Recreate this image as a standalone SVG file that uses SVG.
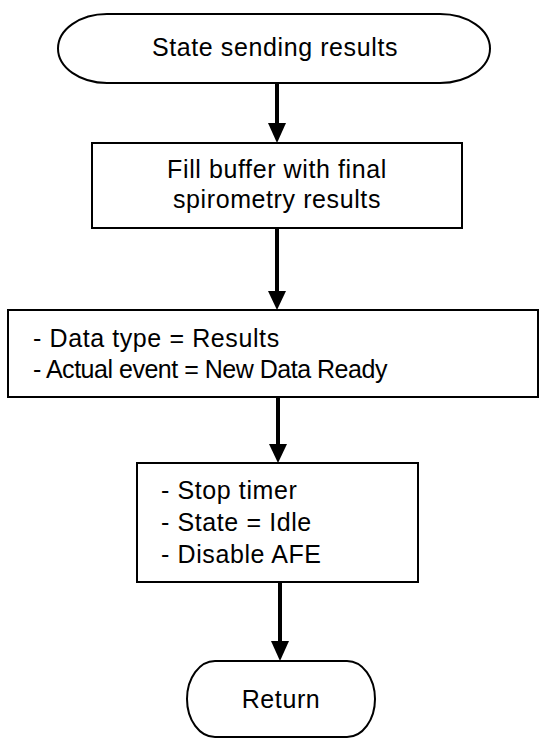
<svg xmlns="http://www.w3.org/2000/svg" width="541" height="739" viewBox="0 0 541 739">
<style>
.shape{fill:#fff;stroke:#000;stroke-width:2}
.t{font-family:"Liberation Sans",Arial,sans-serif;font-size:25px;letter-spacing:0.6px;fill:#000}
.c{text-anchor:middle}
.conn{stroke:#000;stroke-width:4;fill:none}
.head{fill:#000}
</style>
<rect width="541" height="739" fill="#fff"/>
<g id="connectors">
<path class="conn" d="M277,83 V125"/><path class="head" d="M268,123 L286,123 L277,143 Z"/>
<path class="conn" d="M277,228 V292"/><path class="head" d="M268,291 L286,291 L277,310 Z"/>
<path class="conn" d="M278,397 V445"/><path class="head" d="M269,444 L287,444 L278,463 Z"/>
<path class="conn" d="M280,582 V642"/><path class="head" d="M271,641 L289,641 L280,661 Z"/>
</g>
<g id="start">
<path class="shape" d="M107,14 H440 A50,34.5 0 0 1 440,83 H107 A49,34.5 0 0 1 107,14 Z"/>
<text class="t c" x="275" y="56">State sending results</text>
</g>
<g id="fill-buffer">
<rect class="shape" x="92" y="143" width="370" height="85"/>
<text class="t c" x="277" y="178">Fill buffer with final</text>
<text class="t c" x="277" y="208">spirometry results</text>
</g>
<g id="set-data">
<rect class="shape" x="8" y="310" width="530" height="87"/>
<text class="t" x="33" y="347">- Data type = Results</text>
<text class="t" x="33" y="378" textLength="355" lengthAdjust="spacing">- Actual event = New Data Ready</text>
</g>
<g id="stop">
<rect class="shape" x="137" y="463" width="281" height="119"/>
<text class="t" x="161" y="499">- Stop timer</text>
<text class="t" x="161" y="531">- State = Idle</text>
<text class="t" x="161" y="563">- Disable AFE</text>
</g>
<g id="return">
<path class="shape" d="M215,661 H347 A28,38 0 0 1 347,737 H215 A28,38 0 0 1 215,661 Z"/>
<text class="t c" x="281" y="708">Return</text>
</g>
</svg>
